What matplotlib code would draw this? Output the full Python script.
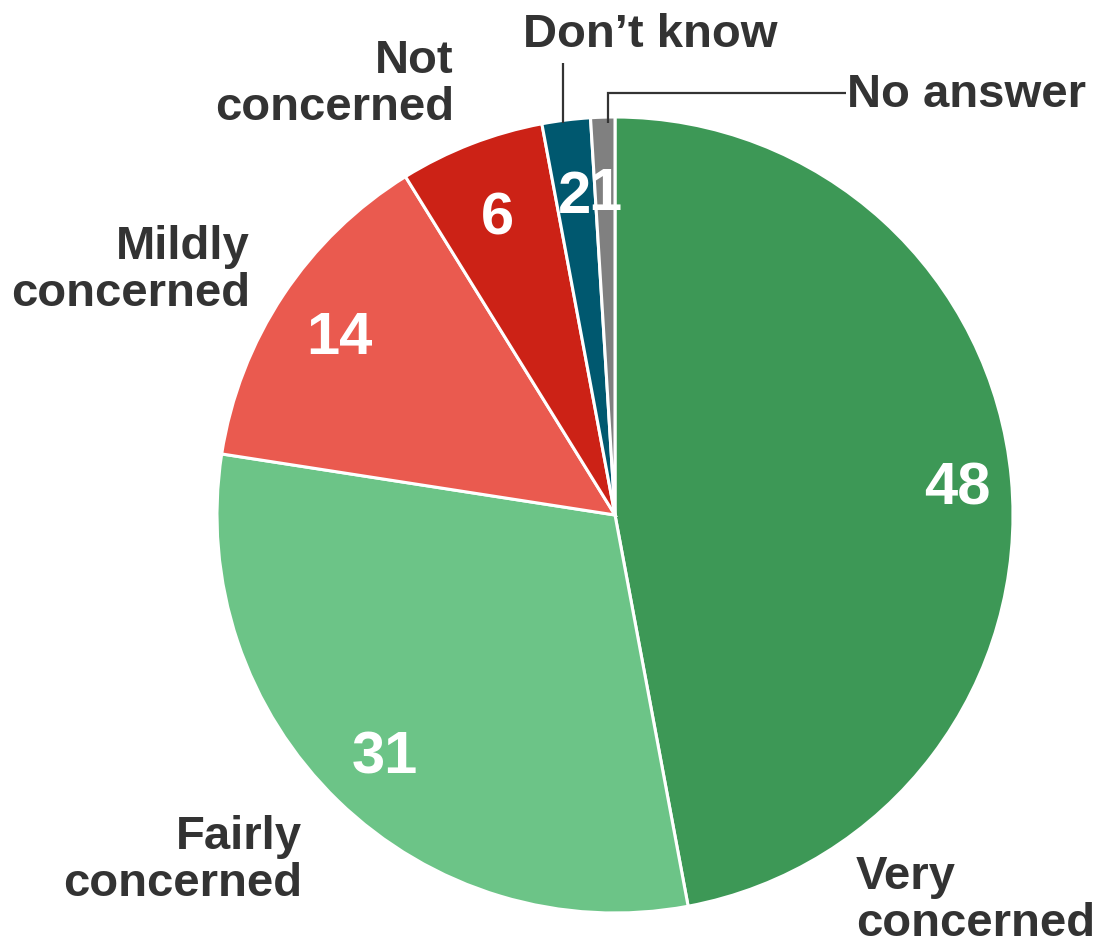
import numpy as np
import matplotlib.pyplot as plt

# ------------------------------------------------------------------
# Data
# ------------------------------------------------------------------
categories = ['Very\nconcerned', 'Fairly\nconcerned', 'Mildly\nconcerned',
              'Not\nconcerned', 'Don\u2019t know', 'No answer']
values     = [48, 31, 14, 6, 2, 1]
colors     = ['#3d9856', '#6cc487', '#ea5a4f', '#cc2216', '#00586f', '#808080']

# ------------------------------------------------------------------
# Layout (pixel units, y measured from the top of the image)
# ------------------------------------------------------------------
W, H = 1097, 944
CX, CY, R = 615, 515, 398
TXT = '#333333'
FONT = ['Liberation Sans', 'DejaVu Sans']

def py(y):
    return H - y

fig = plt.figure(figsize=(W / 100, H / 100), dpi=100)
ax = fig.add_axes([0, 0, 1, 1])

wedges, _ = ax.pie(values, colors=colors, startangle=90, counterclock=False,
                   center=(CX, py(CY)), radius=R,
                   wedgeprops=dict(edgecolor='white', linewidth=2.2))
ax.set_xlim(0, W)
ax.set_ylim(0, H)
ax.set_aspect('equal')
ax.axis('off')

# value labels inside wedges
label_frac = [0.865, 0.83, 0.83, 0.815, 0.82, 0.82]
for w, v, f in zip(wedges, values, label_frac):
    mid = np.deg2rad((w.theta1 + w.theta2) / 2)
    x = CX + R * f * np.cos(mid)
    y = py(CY) + R * f * np.sin(mid)
    ax.text(x, y, str(v), color='white', fontsize=43, fontweight='bold',
            family=FONT, ha='center', va='center_baseline')

# category labels outside (x, first baseline, alignment)
LINE = 47
outer = [
    (856, 889, 'left'),
    (302, 849, 'right'),
    (250, 259, 'right'),
    (454, 73, 'right'),
    (650, 47, 'center'),
    (847, 107, 'left'),
]
for (x, yb, ha), name in zip(outer, categories):
    for i, line in enumerate(name.split('\n')):
        ax.text(x, py(yb + i * LINE), line, color=TXT, fontsize=34,
                fontweight='bold', family=FONT, ha=ha, va='baseline')

# leader lines
ax.plot([563, 563], [py(123), py(63)], color=TXT, lw=1.6, solid_capstyle='butt')
ax.plot([608, 608, 846], [py(123), py(93), py(93)], color=TXT, lw=1.6,
        solid_capstyle='butt', solid_joinstyle='miter')

fig.savefig('out.png', dpi=100)
